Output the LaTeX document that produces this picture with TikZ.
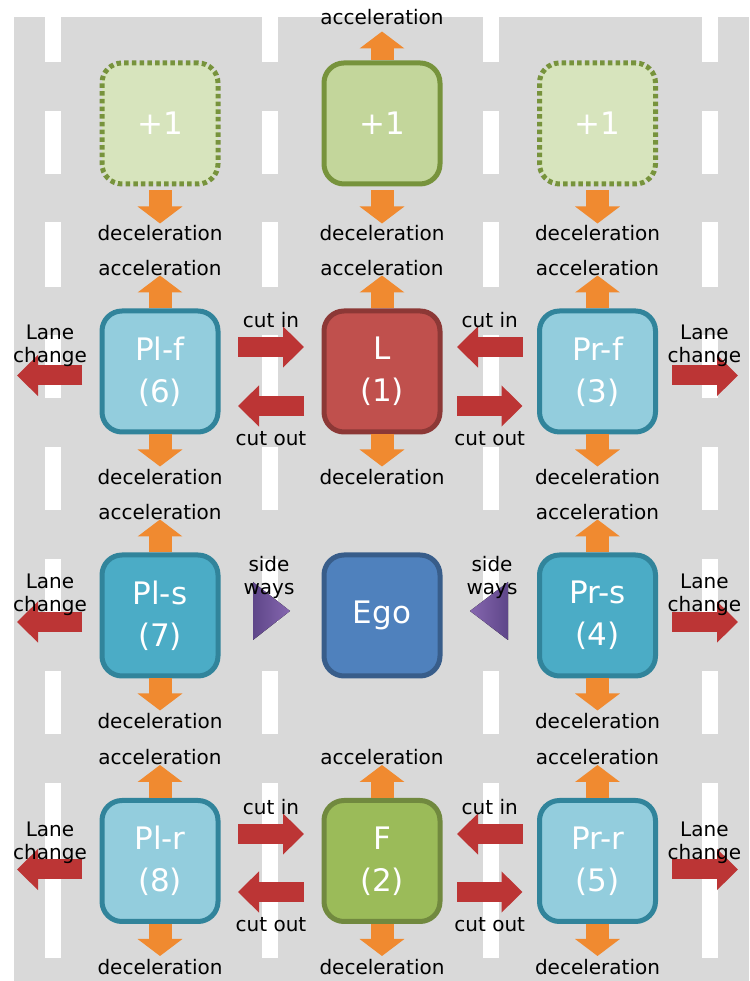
\documentclass[tikz,border=0pt]{standalone}
\usepackage{fontspec}
\setmainfont{DejaVu Sans}
\usetikzlibrary{positioning}
\usetikzlibrary{arrows.meta}

\definecolor{roadgray}{HTML}{D9D9D9}
\definecolor{accorange}{HTML}{F08A30}
\definecolor{movered}{HTML}{BC3535}
\definecolor{ghostfill}{HTML}{D7E4BD}
\definecolor{leadgreen}{HTML}{C3D69B}
\definecolor{greenline}{HTML}{77933C}
\definecolor{leadred}{HTML}{C0504D}
\definecolor{leadredline}{HTML}{8C3836}
\definecolor{paleblue}{HTML}{93CDDD}
\definecolor{tealblue}{HTML}{4BACC6}
\definecolor{tealline}{HTML}{31849B}
\definecolor{egoblue}{HTML}{4F81BD}
\definecolor{egoline}{HTML}{385D8A}
\definecolor{followgreen}{HTML}{9BBB59}
\definecolor{followline}{HTML}{71893F}
\definecolor{purpledark}{HTML}{5E4689}
\definecolor{purplelight}{HTML}{8667AF}

\begin{document}
\begin{tikzpicture}[x=1pt,y=1pt,
carbox/.style={draw,rounded corners=20pt,line width=5pt,minimum width=116pt,minimum height=121pt,align=center,text=white,font=\fontsize{31}{42}\selectfont},
ghostbox/.style={carbox,fill=ghostfill,draw=greenline,dash pattern=on 4.5pt off 3.2pt},
plusbox/.style={carbox,fill=leadgreen,draw=greenline},
leadbox/.style={carbox,fill=leadred,draw=leadredline},
palebox/.style={carbox,fill=paleblue,draw=tealline},
sidebox/.style={carbox,fill=tealblue,draw=tealline},
egobox/.style={carbox,fill=egoblue,draw=egoline},
followbox/.style={carbox,fill=followgreen,draw=followline},
speed/.style={draw=accorange,line width=23pt,-{Triangle[width=44pt,length=17pt]}},
move/.style={draw=movered,line width=20pt,-{Triangle[width=40pt,length=21pt]}},
lbl/.style={inner sep=0pt,outer sep=0pt,align=center,font=\fontsize{20}{23}\selectfont}]

% road with lane marks
\useasboundingbox (0,0) rectangle (749,981);
\fill[roadgray] (14,0) rectangle (749,964);
\foreach \x in {53,270,491,709.5}
  \foreach \a/\b in {919/964,807/870,694/759,583/646,471/534,359/422,247/310,23/198}
    \fill[white] (\x-8,\a) rectangle (\x+8,\b);

% vehicles
\node[ghostbox] (pf) at (160,857.5) {+1};
\node[plusbox] (lf) at (382,857.5) {+1};
\node[ghostbox] (rf) at (597.5,857.5) {+1};
\node[palebox] (plf) at (160,609.5) {Pl-f\\(6)};
\node[leadbox] (l) at (382,609.5) {L\\(1)};
\node[palebox] (prf) at (597.5,609.5) {Pr-f\\(3)};
\node[sidebox] (pls) at (160,365.5) {Pl-s\\(7)};
\node[egobox] (ego) at (382,365.5) {Ego};
\node[sidebox] (prs) at (597.5,365.5) {Pr-s\\(4)};
\node[palebox] (plr) at (160,120) {Pl-r\\(8)};
\node[followbox] (f) at (382,120) {F\\(2)};
\node[palebox] (prr) at (597.5,120) {Pr-r\\(5)};

% acceleration / deceleration
\node[lbl,above=36pt of lf] (lf-acc) {acceleration};
\draw[speed,shorten >=7pt] (lf.north) -- (lf-acc.south);
\foreach \b in {pf,lf,rf} {
  \node[lbl,below=39pt of \b] (\b-dec) {deceleration};
  \draw[speed,shorten <=4pt,shorten >=2pt] (\b.south) -- (\b-dec.north);
}
\foreach \b in {plf,l,prf,pls,prs,plr,f,prr} {
  \node[lbl,above=33pt of \b] (\b-acc) {acceleration};
  \node[lbl,below=35pt of \b] (\b-dec) {deceleration};
  \draw[speed] (\b.north) -- (\b-acc.south);
  \draw[speed,shorten >=3pt] (\b.south) -- (\b-dec.north);
}

% cut in / cut out
\foreach \a/\b/\c/\up/\dn in {plf/l/prf/24.5pt/-34.5pt,plr/f/prr/27pt/-31pt} {
  \draw[move,shorten <=17.5pt,shorten >=17.5pt] ([yshift=\up]\a.east) -- node[lbl,above=19pt] (\a-in) {cut in} ([yshift=\up]\b.west);
  \draw[move,shorten <=17.5pt,shorten >=17.5pt] ([yshift=\dn]\b.west) -- node[lbl,below=25pt] (\a-out) {cut out} ([yshift=\dn]\a.east);
  \draw[move,shorten <=14.5pt,shorten >=14.5pt] ([yshift=\up]\c.west) -- node[lbl,above=19pt] (\c-in) {cut in} ([yshift=\up]\b.east);
  \draw[move,shorten <=14.5pt,shorten >=14.5pt] ([yshift=\dn]\b.east) -- node[lbl,below=25pt] (\c-out) {cut out} ([yshift=\dn]\c.west);
}

% lane change
\foreach \b/\dy/\gap in {plf/-4pt/9pt,pls/-6.5pt/6pt,plr/-8.5pt/6pt} {
  \coordinate (\b-lc) at ([xshift=-82.5pt,yshift=\dy]\b.west);
  \draw[move,shorten <=17.5pt] ([yshift=\dy]\b.west) -- node[lbl,pos=0.6,above=\gap] (\b-lct) {Lane\\change} (\b-lc);
}
\foreach \b/\dy/\gap in {prf/-4pt/9pt,prs/-6.5pt/6pt,prr/-8.5pt/6pt} {
  \coordinate (\b-lc) at ([xshift=80pt,yshift=\dy]\b.east);
  \draw[move,shorten <=14pt] ([yshift=\dy]\b.east) -- node[lbl,pos=0.58,above=\gap] (\b-lct) {Lane\\change} (\b-lc);
}

% side ways
\fill[left color=purpledark,right color=purplelight] (253,399) -- (290,370) -- (253,341) -- cycle;
\node[lbl] (swl) at (269,403.5) {side\\ways};
\fill[left color=purplelight,right color=purpledark] (508,399) -- (470,370) -- (508,341) -- cycle;
\node[lbl] (swr) at (492,403.5) {side\\ways};
\end{tikzpicture}
\end{document}
